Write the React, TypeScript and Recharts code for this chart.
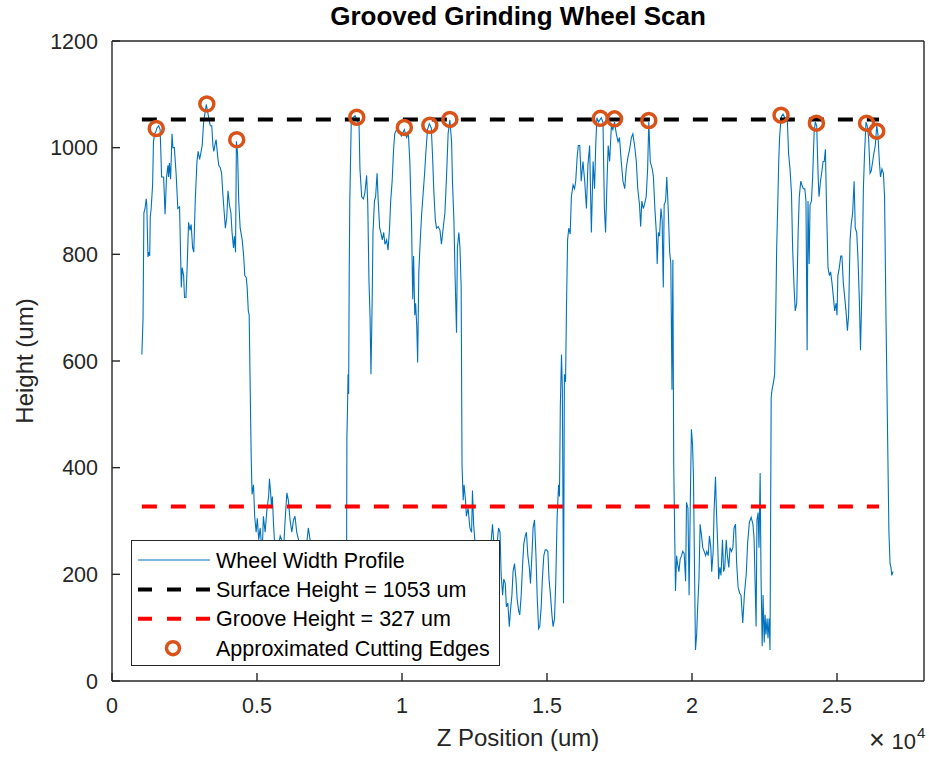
import { ComposedChart, Line, Scatter, XAxis, YAxis } from 'recharts'

const FONT = '"Liberation Sans", Arial, Helvetica, sans-serif'
const AXIS_COLOR = '#262626'
const PROFILE_COLOR = '#0072BD'
const EDGE_COLOR = '#D95319'

const zPosition = [
  1030, 1070, 1100, 1140, 1180, 1200, 1240, 1270, 1300, 1320, 1350, 1400,
  1430, 1470, 1510, 1550, 1610, 1660, 1710, 1780, 1830, 1880, 1930, 1950,
  1980, 2020, 2070, 2100, 2150, 2210, 2270, 2330, 2390, 2420, 2470, 2500,
  2550, 2590, 2640, 2690, 2730, 2780, 2820, 2870, 2930, 2970, 3020, 3060,
  3110, 3160, 3200, 3250, 3290, 3340, 3390, 3440, 3480, 3510, 3560, 3590,
  3640, 3680, 3730, 3780, 3820, 3870, 3910, 3960, 4000, 4050, 4100, 4140,
  4190, 4220, 4260, 4290, 4330, 4370, 4420, 4490, 4540, 4580, 4630, 4660,
  4700, 4730, 4770, 4800, 4830, 4880, 4920, 4970, 5010, 5060, 5110, 5140,
  5180, 5220, 5280, 5340, 5400, 5430, 5470, 5500, 5530, 5570, 5600, 5650,
  5720, 5800, 5850, 5900, 5970, 6030, 6080, 6140, 6200, 6260, 6310, 6370,
  6430, 6500, 6600, 6700, 6770, 6830, 6900, 7050, 7200, 7400, 7600, 7800,
  8000, 8090, 8100, 8120, 8140, 8160, 8180, 8200, 8230, 8250, 8300, 8380,
  8460, 8520, 8550, 8610, 8670, 8720, 8780, 8820, 8860, 8900, 8930, 8970,
  9000, 9050, 9090, 9140, 9180, 9230, 9270, 9320, 9370, 9410, 9470, 9520,
  9570, 9610, 9660, 9710, 9750, 9810, 9900, 9980, 10080, 10160, 10220, 10270,
  10330, 10370, 10400, 10440, 10470, 10510, 10540, 10580, 10630, 10680, 10730, 10780,
  10820, 10880, 10940, 11010, 11050, 11100, 11150, 11190, 11250, 11310, 11360, 11420,
  11480, 11540, 11590, 11650, 11710, 11740, 11790, 11830, 11880, 11910, 11960, 12000,
  12040, 12070, 12110, 12140, 12190, 12220, 12280, 12340, 12400, 12430, 12470, 12510,
  12600, 12700, 12800, 12950, 13050, 13120, 13170, 13250, 13330, 13380, 13420, 13470,
  13510, 13560, 13600, 13650, 13700, 13740, 13790, 13830, 13880, 13930, 13970, 14020,
  14060, 14110, 14160, 14200, 14250, 14290, 14340, 14390, 14430, 14480, 14520, 14570,
  14620, 14660, 14710, 14750, 14800, 14840, 14890, 14940, 14980, 15030, 15070, 15120,
  15170, 15210, 15260, 15300, 15350, 15400, 15430, 15460, 15500, 15530, 15570, 15600,
  15640, 15670, 15710, 15750, 15800, 15840, 15900, 15950, 15990, 16040, 16080, 16130,
  16180, 16240, 16300, 16360, 16410, 16470, 16530, 16590, 16640, 16680, 16720, 16780,
  16870, 16930, 16980, 17020, 17070, 17110, 17160, 17220, 17270, 17330, 17390, 17450,
  17500, 17560, 17620, 17680, 17730, 17790, 17850, 17910, 17960, 18020, 18080, 18130,
  18190, 18230, 18270, 18320, 18360, 18420, 18470, 18510, 18560, 18630, 18670, 18720,
  18770, 18800, 18840, 18880, 18930, 18970, 19010, 19040, 19090, 19130, 19180, 19230,
  19270, 19310, 19340, 19370, 19410, 19430, 19470, 19500, 19550, 19590, 19640, 19680,
  19730, 19780, 19810, 19860, 19900, 19950, 19980, 20020, 20050, 20090, 20120, 20160,
  20190, 20240, 20280, 20330, 20370, 20420, 20470, 20510, 20560, 20600, 20650, 20680,
  20730, 20760, 20810, 20840, 20890, 20920, 20960, 21000, 21050, 21090, 21130, 21180,
  21220, 21270, 21310, 21360, 21410, 21450, 21500, 21540, 21590, 21640, 21690, 21750,
  21810, 21870, 21920, 21980, 22040, 22100, 22140, 22180, 22210, 22240, 22280, 22310,
  22350, 22380, 22420, 22450, 22490, 22520, 22550, 22590, 22620, 22660, 22690, 22730,
  22760, 22810, 22850, 22890, 22920, 22960, 22990, 23020, 23060, 23090, 23140, 23200,
  23240, 23290, 23330, 23380, 23430, 23470, 23520, 23560, 23610, 23660, 23700, 23750,
  23790, 23840, 23890, 23930, 23970, 24000, 24040, 24070, 24120, 24160, 24210, 24250,
  24300, 24350, 24380, 24430, 24470, 24520, 24560, 24600, 24640, 24690, 24740, 24780,
  24830, 24870, 24920, 24970, 25000, 25030, 25080, 25130, 25170, 25220, 25260, 25310,
  25360, 25400, 25450, 25490, 25540, 25590, 25630, 25680, 25720, 25770, 25810, 25860,
  25910, 25950, 26000, 26040, 26090, 26140, 26180, 26230, 26270, 26320, 26370, 26410,
  26460, 26500, 26550, 26600, 26640, 26690, 26720, 26760, 26790, 26830, 26860, 26890,
  26930,
]

const wheelHeight = [
  612, 679, 878, 886, 904, 893, 795, 804, 797, 871, 886, 930,
  1011, 1026, 1030, 1037, 1041, 1034, 945, 945, 875, 945, 967, 945,
  971, 941, 1026, 1000, 1000, 952, 886, 889, 738, 775, 760, 719,
  719, 775, 860, 845, 856, 812, 804, 900, 974, 993, 978, 989,
  1004, 1048, 1063, 1081, 1070, 1055, 1041, 1041, 1004, 993, 1008, 1015,
  986, 967, 963, 952, 915, 878, 849, 871, 919, 893, 878, 841,
  812, 834, 804, 1012, 989, 900, 849, 827, 797, 760, 756, 738,
  694, 686, 531, 420, 350, 368, 309, 279, 305, 265, 287, 265,
  240, 309, 279, 320, 346, 379, 353, 324, 346, 294, 265, 220,
  245, 272, 265, 230, 302, 353, 339, 302, 279, 302, 309, 279,
  265, 225, 240, 250, 287, 265, 210, 230, 200, 215, 190, 220,
  205, 240, 457, 509, 575, 538, 767, 900, 989, 1048, 1056, 1060,
  1051, 1041, 960, 908, 904, 915, 948, 893, 753, 679, 575, 708,
  841, 900, 908, 952, 900, 849, 841, 827, 841, 819, 827, 808,
  849, 900, 937, 997, 1026, 1034, 1030, 1022, 1034, 1019, 1026, 974,
  856, 716, 797, 686, 708, 664, 597, 767, 827, 878, 915, 952,
  989, 1034, 1045, 1037, 989, 915, 864, 849, 852, 845, 819, 849,
  878, 952, 1026, 1052, 1011, 937, 864, 760, 653, 812, 841, 812,
  738, 405, 339, 368, 339, 309, 324, 287, 279, 357, 294, 265,
  230, 200, 240, 230, 245, 294, 257, 240, 287, 279, 198, 161,
  191, 183, 139, 146, 102, 132, 161, 205, 220, 191, 154, 132,
  124, 161, 220, 257, 272, 279, 235, 213, 183, 235, 287, 302,
  235, 161, 98, 102, 139, 191, 235, 246, 246, 243, 191, 161,
  124, 102, 117, 183, 309, 368, 346, 516, 612, 546, 146, 575,
  561, 694, 827, 849, 838, 908, 930, 923, 937, 982, 1004, 1004,
  937, 974, 937, 886, 967, 1004, 841, 974, 923, 1004, 1056, 1048,
  1056, 1048, 886, 841, 937, 1004, 974, 1041, 1034, 1048, 1026, 1011,
  1019, 974, 937, 923, 960, 982, 997, 1019, 1026, 1004, 974, 923,
  893, 852, 900, 886, 893, 908, 960, 1048, 974, 960, 945, 886,
  841, 782, 841, 834, 886, 864, 738, 893, 900, 945, 886, 804,
  782, 546, 790, 405, 250, 169, 235, 220, 205, 228, 235, 243,
  239, 187, 335, 324, 161, 368, 472, 442, 383, 198, 58, 87,
  132, 191, 294, 272, 250, 243, 235, 243, 235, 272, 250, 205,
  243, 316, 383, 324, 250, 191, 213, 198, 265, 205, 213, 265,
  235, 213, 250, 243, 250, 287, 294, 220, 176, 165, 161, 109,
  165, 200, 260, 298, 307, 294, 268, 176, 102, 302, 316, 250,
  390, 198, 65, 161, 72, 124, 87, 117, 80, 117, 58, 531,
  546, 560, 575, 694, 812, 900, 974, 1019, 1048, 1059, 1063, 1056,
  1052, 1048, 989, 960, 915, 812, 738, 694, 708, 841, 908, 937,
  930, 923, 923, 900, 620, 900, 782, 893, 900, 945, 1026, 1048,
  1041, 945, 908, 937, 952, 974, 974, 997, 886, 775, 760, 767,
  745, 723, 694, 708, 686, 760, 775, 797, 797, 745, 723, 694,
  657, 686, 827, 856, 878, 937, 849, 841, 797, 716, 620, 738,
  923, 989, 1048, 1041, 1019, 952, 956, 974, 989, 1004, 1041, 1026,
  974, 945, 960, 952, 908, 679, 560, 398, 279, 220, 213, 198,
  205,
]

const edgeZ = [1526, 3270, 4300, 8440, 10080, 10960, 11650, 16840, 17330, 18510, 23070, 24290, 26020, 26370]
const edgeHeight = [1036, 1082, 1015, 1057, 1038, 1042, 1053, 1055, 1054, 1051, 1061, 1046, 1046, 1031]

const SURFACE_HEIGHT = 1053
const GROOVE_HEIGHT = 327
const levelSpan = [1030, 26450]

const xTicks = [0, 5000, 10000, 15000, 20000, 25000]
const yTicks = [0, 200, 400, 600, 800, 1000, 1200]

const profileData = zPosition.map((z, i) => ({ z, h: wheelHeight[i] }))
const edgeData = edgeZ.map((z, i) => ({ z, h: edgeHeight[i] }))
const surfaceData = levelSpan.map((z) => ({ z, h: SURFACE_HEIGHT }))
const grooveData = levelSpan.map((z) => ({ z, h: GROOVE_HEIGHT }))

const tickStyle = { fill: AXIS_COLOR, fontSize: 21.5, fontFamily: FONT }
const axisLineStyle = { stroke: AXIS_COLOR, strokeWidth: 1.4 }

function EdgeMarker(props: any) {
  const { cx, cy } = props
  return <circle cx={cx} cy={cy} r={7} fill="none" stroke={EDGE_COLOR} strokeWidth={3.5} />
}

function XAxisTitle(props: any) {
  const { x, y, width } = props.viewBox
  const right = x + width
  return (
    <g fontFamily={FONT} fill={AXIS_COLOR}>
      <text x={x + width / 2} y={y + 65} textAnchor="middle" fontSize={24}>
        Z Position (um)
      </text>
      {/* exponent note, MATLAB style */}
      <text x={right - 47} y={y + 68} textAnchor="middle" fontSize={27}>
        ×
      </text>
      <text x={right - 8} y={y + 68} textAnchor="end" fontSize={22}>
        10
      </text>
      <text x={right - 7} y={y + 57} textAnchor="start" fontSize={15}>
        4
      </text>
    </g>
  )
}

function YAxisTitle(props: any) {
  const { y, height } = props.viewBox
  const cx = 33
  const cy = y + height / 2
  return (
    <text
      x={cx}
      y={cy}
      transform={`rotate(-90, ${cx}, ${cy})`}
      textAnchor="middle"
      fontSize={24}
      fontFamily={FONT}
      fill={AXIS_COLOR}
    >
      Height (um)
    </text>
  )
}

const legendRows = [
  { label: 'Wheel Width Profile', kind: 'profile' },
  { label: `Surface Height = ${SURFACE_HEIGHT} um`, kind: 'surface' },
  { label: `Groove Height = ${GROOVE_HEIGHT} um`, kind: 'groove' },
  { label: 'Approximated Cutting Edges', kind: 'edge' },
]

function LegendBox() {
  return (
    <div
      style={{
        position: 'absolute',
        left: 131,
        top: 540,
        width: 369,
        height: 126,
        background: '#fff',
        border: `1px solid ${AXIS_COLOR}`,
        boxSizing: 'border-box',
      }}
    >
      <svg width={367} height={124} style={{ display: 'block' }}>
        {legendRows.map((row, i) => {
          const cy = 19 + i * 29.4
          let sample = null
          if (row.kind === 'profile') {
            sample = <line x1={6} x2={78} y1={cy} y2={cy} stroke={PROFILE_COLOR} strokeWidth={1.1} />
          } else if (row.kind === 'edge') {
            sample = <circle cx={41} cy={cy} r={6.5} fill="none" stroke={EDGE_COLOR} strokeWidth={3.5} />
          } else {
            sample = (
              <line
                x1={6}
                x2={78}
                y1={cy}
                y2={cy}
                stroke={row.kind === 'surface' ? '#000' : '#FF0000'}
                strokeWidth={4}
                strokeDasharray="14 15"
              />
            )
          }
          return (
            <g key={row.label}>
              {sample}
              <text x={84} y={cy + 7.6} fontSize={21.5} fontFamily={FONT} fill="#000">
                {row.label}
              </text>
            </g>
          )
        })}
      </svg>
    </div>
  )
}

export default function App() {
  return (
    <div style={{ position: 'relative', width: 929, height: 759, background: '#fff' }}>
      <style>{'body { margin: 0; }'}</style>
      <ComposedChart width={929} height={759} margin={{ top: 40, right: 4, bottom: 0, left: 0 }}>
        <XAxis
          dataKey="z"
          type="number"
          domain={[0, 28000]}
          ticks={xTicks}
          allowDataOverflow
          height={78}
          tickSize={-8}
          tickMargin={25}
          tick={tickStyle}
          tickLine={axisLineStyle}
          axisLine={axisLineStyle}
          tickFormatter={(v: number) => String(v / 10000)}
          label={XAxisTitle}
        />
        <XAxis
          xAxisId="top"
          orientation="top"
          dataKey="z"
          type="number"
          domain={[0, 28000]}
          ticks={xTicks}
          height={1}
          tickSize={-8}
          tick={false}
          tickLine={axisLineStyle}
          axisLine={axisLineStyle}
          label={{
            value: 'Grooved Grinding Wheel Scan',
            position: 'top',
            offset: 15,
            fill: '#000',
            fontSize: 26,
            fontWeight: 'bold',
            fontFamily: FONT,
          }}
        />
        <YAxis
          type="number"
          domain={[0, 1200]}
          ticks={yTicks}
          allowDataOverflow
          width={112}
          tickSize={-8}
          tickMargin={22}
          tick={tickStyle}
          tickLine={axisLineStyle}
          axisLine={axisLineStyle}
          label={YAxisTitle}
        />
        <YAxis
          yAxisId="right"
          orientation="right"
          type="number"
          domain={[0, 1200]}
          ticks={yTicks}
          width={1}
          tickSize={-8}
          tick={false}
          tickLine={axisLineStyle}
          axisLine={axisLineStyle}
        />
        <Line
          data={profileData}
          dataKey="h"
          type="linear"
          stroke={PROFILE_COLOR}
          strokeWidth={1.1}
          dot={false}
          isAnimationActive={false}
        />
        <Line
          data={surfaceData}
          dataKey="h"
          type="linear"
          stroke="#000"
          strokeWidth={4}
          strokeDasharray="15 14"
          dot={false}
          isAnimationActive={false}
        />
        <Line
          data={grooveData}
          dataKey="h"
          type="linear"
          stroke="#FF0000"
          strokeWidth={4}
          strokeDasharray="15 14"
          dot={false}
          isAnimationActive={false}
        />
        <Scatter data={edgeData} dataKey="h" shape={EdgeMarker} isAnimationActive={false} />
      </ComposedChart>
      <LegendBox />
    </div>
  )
}
